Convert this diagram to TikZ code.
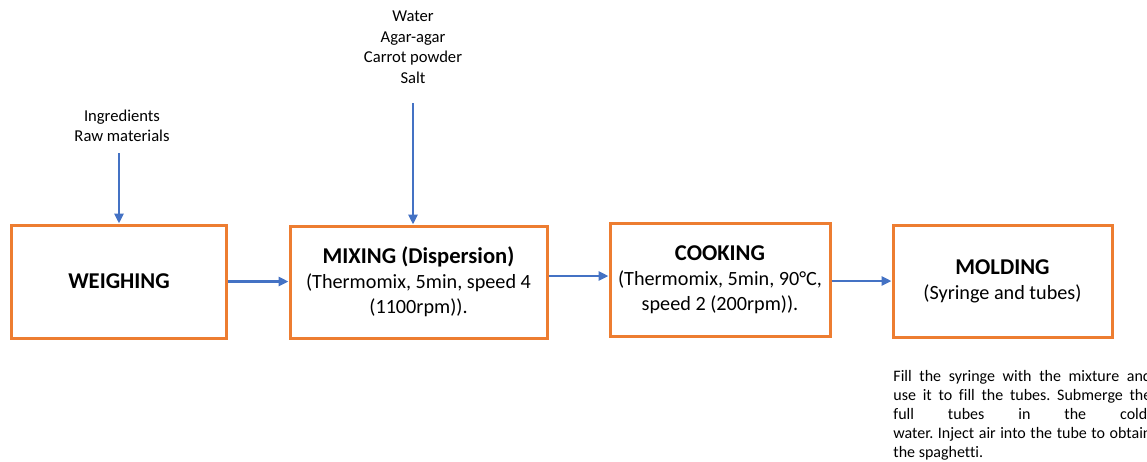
\documentclass[tikz,border=0pt]{standalone}
\usepackage{fontspec}
\setmainfont{Carlito}[Ligatures=CommonOff]
\usetikzlibrary{arrows.meta, positioning}
\frenchspacing
\definecolor{boxorange}{HTML}{ED7D31}
\definecolor{arrowblue}{HTML}{4472C4}
\newcommand{\steptitle}[1]{{\fontsize{11.3}{12.5}\selectfont\bfseries #1}}
\newcommand{\noteline}[1]{\makebox[129pt][s]{#1}}

\begin{document}
\begin{tikzpicture}[
    x=0.5pt, y=-0.5pt,
    every node/.style={font=\fontsize{10.1}{12.5}\selectfont},
    stepblock/.style={rectangle, draw=boxorange, line width=1.5pt, align=center, inner sep=0pt},
    inputlabel/.style={align=center, font=\fontsize{8.3}{10.25}\selectfont},
    notetext/.style={align=left, inner sep=0pt, font=\fontsize{8}{9.5}\selectfont},
    arrow/.style={-{Triangle[length=5pt, width=4.5pt]}, draw=arrowblue, line width=1.25pt}
]
\useasboundingbox (0,0) rectangle (1147,461);

\node[stepblock, minimum width=107.5pt, minimum height=56.5pt] (weigh) at (119,281.5) {\steptitle{WEIGHING}};
\node[stepblock, minimum width=128.5pt, minimum height=56pt] (mix) at (418.5,282) {
\steptitle{MIXING (Dispersion)}\\
(Thermomix, 5min, speed 4\\
(1100rpm)).
};
\node[stepblock, minimum width=110pt, minimum height=56.5pt] (cook) at (720,279.5) {
\steptitle{COOKING}\\
(Thermomix, 5min, 90°C,\\
speed 2 (200rpm)).
};
\node[stepblock, minimum width=109.5pt, minimum height=56pt] (mold) at (1002.5,281) {
\steptitle{MOLDING}\\
(Syringe and tubes)
};

\node[inputlabel] (ingr) at (122,126) {Ingredients\\Raw materials};
\node[inputlabel] (water) at (413,47) {Water\\Agar-agar\\Carrot powder\\Salt};

\node[notetext, anchor=north west] (note) at (893,370) {
\noteline{Fill the syringe with the mixture and}\\
\noteline{use it to fill the tubes. Submerge the}\\
\noteline{full tubes in the cold.}\\
\noteline{water. Inject air into the tube to obtain}\\
the spaghetti.
};

\coordinate (ingrtop) at (119,153);
\coordinate (watertop) at (413,103);

\draw[arrow] (ingrtop) -- (ingrtop |- weigh.north);
\draw[arrow] (watertop) -- (watertop |- mix.north);
\draw[arrow] (weigh.east) -- (weigh.east -| mix.west);
\draw[arrow] ([yshift=3pt]mix.east) -- ([yshift=3pt]mix.east -| cook.west);
\draw[arrow] (cook.east |- mold.west) -- (mold.west);

\end{tikzpicture}
\end{document}
